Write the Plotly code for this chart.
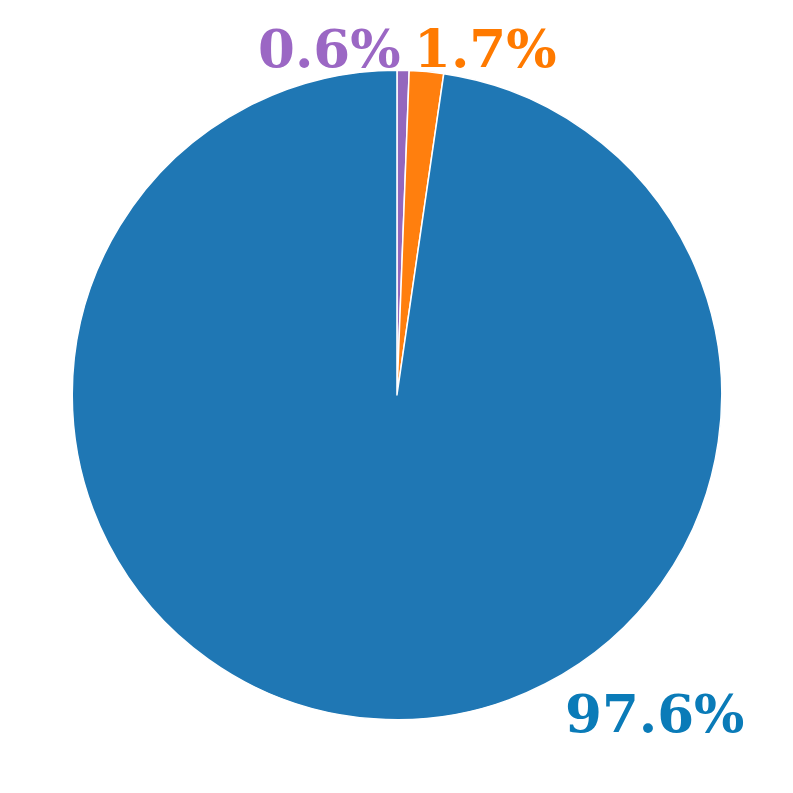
import plotly.graph_objs as go

labels = ['Purple', 'Orange', 'Blue']
values = [0.6, 1.7, 97.6]
slice_colors = ['#9467bd', '#ff7f0e', '#1f77b4']
label_colors = ['#9b67c4', '#ff7a00', '#0a7bb8']

# label placement in paper coords (x, y)
label_pos = [(0.405, 0.950), (0.602, 0.950), (0.815, 0.111)]

fig = go.Figure(data=[go.Pie(
    labels=labels,
    values=values,
    sort=False,
    direction='clockwise',
    rotation=0,
    textinfo='none',
    hoverinfo='label+percent',
    marker=dict(colors=slice_colors, line=dict(color='white', width=1.5)),
    domain=dict(x=[0.081, 0.900], y=[0.102, 0.922]),
    showlegend=False,
)])

for v, c, (px, py) in zip(values, label_colors, label_pos):
    fig.add_annotation(
        x=px, y=py, xref='paper', yref='paper',
        text=f'{v:.1f}%', showarrow=False,
        xanchor='center', yanchor='middle',
        font=dict(family='Georgia, DejaVu Serif, serif', size=53, color=c, weight='bold'),
    )

fig.update_layout(
    width=793, height=793,
    margin=dict(l=0, r=0, t=0, b=0),
    paper_bgcolor='white',
    plot_bgcolor='white',
)

fig.write_html('out.html')
